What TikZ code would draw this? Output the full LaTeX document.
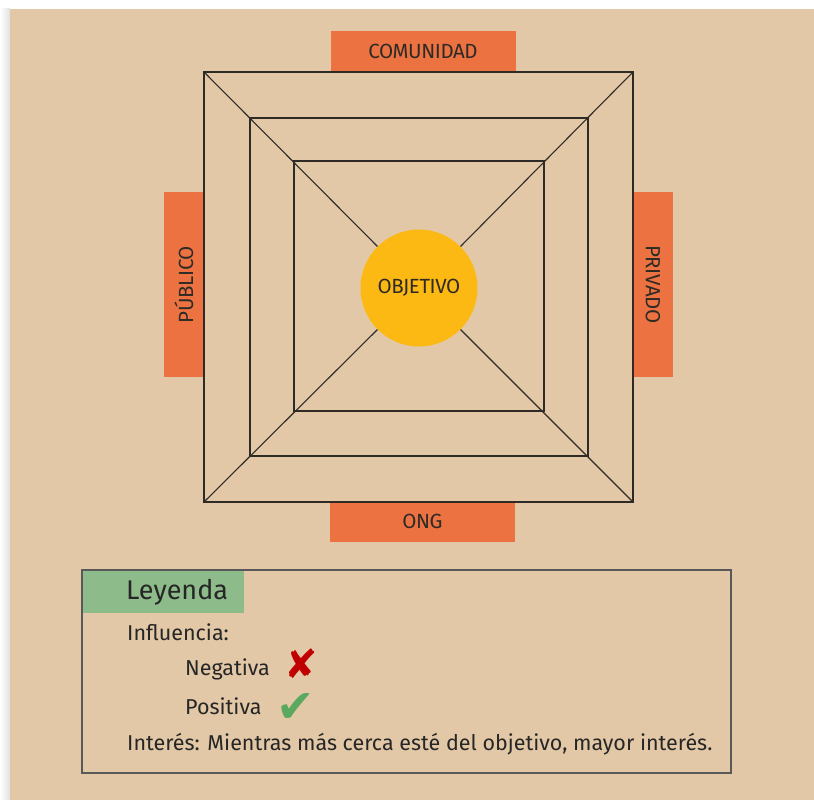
\documentclass[tikz,border=0pt]{standalone}
\usepackage{fontspec}
\setmainfont{Fira Sans}
\newfontfamily\symfont{DejaVu Sans}
\definecolor{paper}{HTML}{E2C8A6}
\definecolor{boxorange}{HTML}{EC7341}
\definecolor{sunyellow}{HTML}{FDB913}
\definecolor{legendgreen}{HTML}{8DBB89}
\definecolor{inkline}{HTML}{2E2A26}
\definecolor{crossred}{HTML}{C00000}
\definecolor{checkgreen}{HTML}{5BA85F}
\begin{document}
\begin{tikzpicture}[x=1pt,y=-1pt,
  frame/.style={draw=inkline,line width=1.3pt},
  diag/.style={draw=inkline,line width=1.1pt},
  label box/.style={fill=boxorange,inner sep=0pt,text=inkline,font=\fontsize{20.5}{22}\selectfont\addfontfeatures{LetterSpace=-2}},
  legtext/.style={anchor=west,inner sep=0pt,text=black!85,font=\fontsize{21.5}{24}\selectfont},
  mark sym/.style={anchor=base west,inner sep=0pt,text depth=0pt}]
\useasboundingbox (0,0) rectangle (814,800);
\fill[white] (0,0) rectangle (814,800);
\shade[left color=white,right color=black!12] (0,9) rectangle (10,800);
\fill[paper] (10,9) rectangle (814,800);
% labels
\node[label box,minimum width=185pt,minimum height=40pt] (com) at (423,51) {COMUNIDAD};
\node[label box,minimum width=185pt,minimum height=40pt] (ong) at (422.5,521.5) {ONG};
\node[label box,minimum width=185pt,minimum height=40pt,rotate=90] (pub) at (184,284.5) {PÚBLICO};
\node[label box,minimum width=185pt,minimum height=40pt,rotate=-90] (pri) at (653,284.5) {PRIVADO};
% squares
\coordinate (o1) at (204,72);  \coordinate (o2) at (633,72);
\coordinate (o3) at (633,502); \coordinate (o4) at (204,502);
\coordinate (m1) at (250,118); \coordinate (m2) at (588,118);
\coordinate (m3) at (588,456); \coordinate (m4) at (250,456);
\coordinate (i1) at (294,161); \coordinate (i2) at (544,161);
\coordinate (i3) at (544,411); \coordinate (i4) at (294,411);
\node[circle,fill=sunyellow,minimum size=117pt,inner sep=0pt,text=inkline,
  font=\fontsize{20.5}{22}\selectfont\addfontfeatures{LetterSpace=-2}] (obj) at (419,288) {OBJETIVO};
\draw[diag] (o1) -- (obj.135);
\draw[diag] (o2) -- (obj.45);
\draw[diag] (o3) -- (obj.-45);
\draw[diag] (o4) -- (obj.-135);
\draw[frame] (o1) -- (o2) -- (o3) -- (o4) -- cycle;
\draw[frame] (m1) -- (m2) -- (m3) -- (m4) -- cycle;
\draw[frame] (i1) -- (i2) -- (i3) -- (i4) -- cycle;
% legend
\draw[draw=black!65,line width=2pt] (82,570) rectangle (731,773);
\fill[legendgreen] (83,571) rectangle (244,613);
\node[legtext,font=\fontsize{27}{30}\selectfont] (ley) at (126,592) {Leyenda};
\node[legtext] (inf) at (127,632) {Influencia:};
\node[legtext] (neg) at (185,669) {Negativa};
\node[mark sym,text height=28pt,text=crossred,font=\symfont\fontsize{40}{42}\selectfont] (x) at (284,678) {✘};
\node[legtext] (pos) at (185,706) {Positiva};
\node[mark sym,text height=26pt,text=checkgreen,font=\symfont\fontsize{46}{48}\selectfont] (ok) at (276,722) {✔};
\node[legtext] (int) at (127,744) {Interés: Mientras más cerca esté del objetivo, mayor interés.};
\end{tikzpicture}
\end{document}
